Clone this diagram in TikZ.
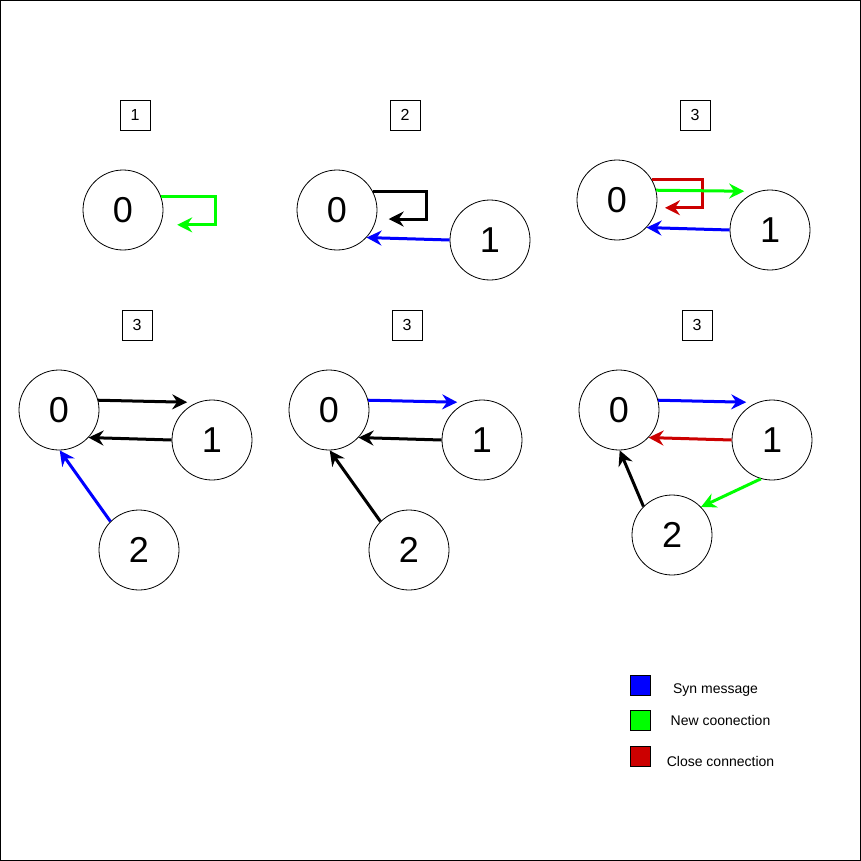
\documentclass[tikz,border=0pt]{standalone}
\usepackage{fontspec}
\setmainfont{Liberation Sans}
\usetikzlibrary{arrows.meta}
\definecolor{synblue}{RGB}{0,0,255}
\definecolor{newgreen}{RGB}{0,255,0}
\definecolor{closered}{RGB}{204,0,0}
\begin{document}
\begin{tikzpicture}[x=1pt,y=-1pt,
  proc/.style={circle,draw,line width=0.8pt,minimum size=80pt,inner sep=0pt,font=\fontsize{36}{40}\selectfont},
  stagebox/.style={draw,line width=0.8pt,minimum size=30pt,inner sep=0pt,font=\fontsize{16}{18}\selectfont},
  conn/.style={line width=3pt,-{Stealth[length=15pt,width=15pt,inset=5pt]}},
  legendsq/.style={draw,line width=0.8pt,minimum size=20pt,inner sep=0pt},
  legendtxt/.style={font=\fontsize{14}{16}\selectfont,inner sep=0pt}
]
\useasboundingbox (0,0) rectangle (861,861);
\draw[line width=1pt] (0.5,0.5) rectangle (860.5,860.5);

% Panel 1
\node[stagebox] (s1) at (135,115) {1};
\node[proc] (pA0) at (123,210) {0};
\draw[conn,newgreen] (pA0.19) -- ++(54,0) -- ++(0,28) -- ++(-38,0);

% Panel 2
\node[stagebox] (s2) at (405,115) {2};
\node[proc] (pB0) at (337,210) {0};
\node[proc] (pB1) at (490,240) {1};
\draw[conn,black] (pB0.28) -- ++(54,0) -- ++(0,28) -- ++(-38,0);
\draw[conn,synblue] (pB1.west) -- (pB0.-43);

% Panel 3 (top)
\node[stagebox] (s3) at (695,115) {3};
\node[proc] (pC0) at (617,200) {0};
\node[proc] (pC1) at (770,230) {1};
\draw[conn,closered] (pC0.30) -- ++(51,0) -- ++(0,28) -- ++(-38,0);
\draw[conn,newgreen] (pC0.14) -- ++(88,1);
\draw[conn,synblue] (pC1.west) -- (pC0.-43);

% Row 2, panel 1
\node[stagebox] (s4) at (137,325) {3};
\node[proc] (pD0) at (59,410) {0};
\node[proc] (pD1) at (212,440) {1};
\node[proc] (pD2) at (139,550) {2};
\draw[conn,black] (pD0.14) -- ++(89,2);
\draw[conn,black] (pD1.west) -- (pD0.-43);
\draw[conn,synblue] (pD2.135) -- (pD0.-89);

% Row 2, panel 2
\node[stagebox] (s5) at (407,325) {3};
\node[proc] (pE0) at (329,410) {0};
\node[proc] (pE1) at (482,440) {1};
\node[proc] (pE2) at (409,550) {2};
\draw[conn,synblue] (pE0.14) -- ++(89,2);
\draw[conn,black] (pE1.west) -- (pE0.-43);
\draw[conn,black] (pE2.135) -- (pE0.-89);

% Row 2, panel 3
\node[stagebox] (s6) at (697,325) {3};
\node[proc] (pF0) at (619,410) {0};
\node[proc] (pF1) at (772,440) {1};
\node[proc] (pF2) at (672,535) {2};
\draw[conn,synblue] (pF0.14) -- ++(88,2);
\draw[conn,closered] (pF1.west) -- (pF0.-43);
\draw[conn,newgreen] (pF1.-106) -- (pF2.44);
\draw[conn,black] (pF2.135) -- (pF0.-89);

% Legend
\node[legendsq,fill=synblue] (lb) at (640,685) {};
\node[legendsq,fill=newgreen] (lg) at (640,720) {};
\node[legendsq,fill=closered] (lr) at (640,756) {};
\node[legendtxt] (tb) at (715.5,690) {Syn message};
\node[legendtxt] (tg) at (720.5,720) {New coonection};
\node[legendtxt] (tr) at (720.5,761) {Close connection};
\end{tikzpicture}
\end{document}
